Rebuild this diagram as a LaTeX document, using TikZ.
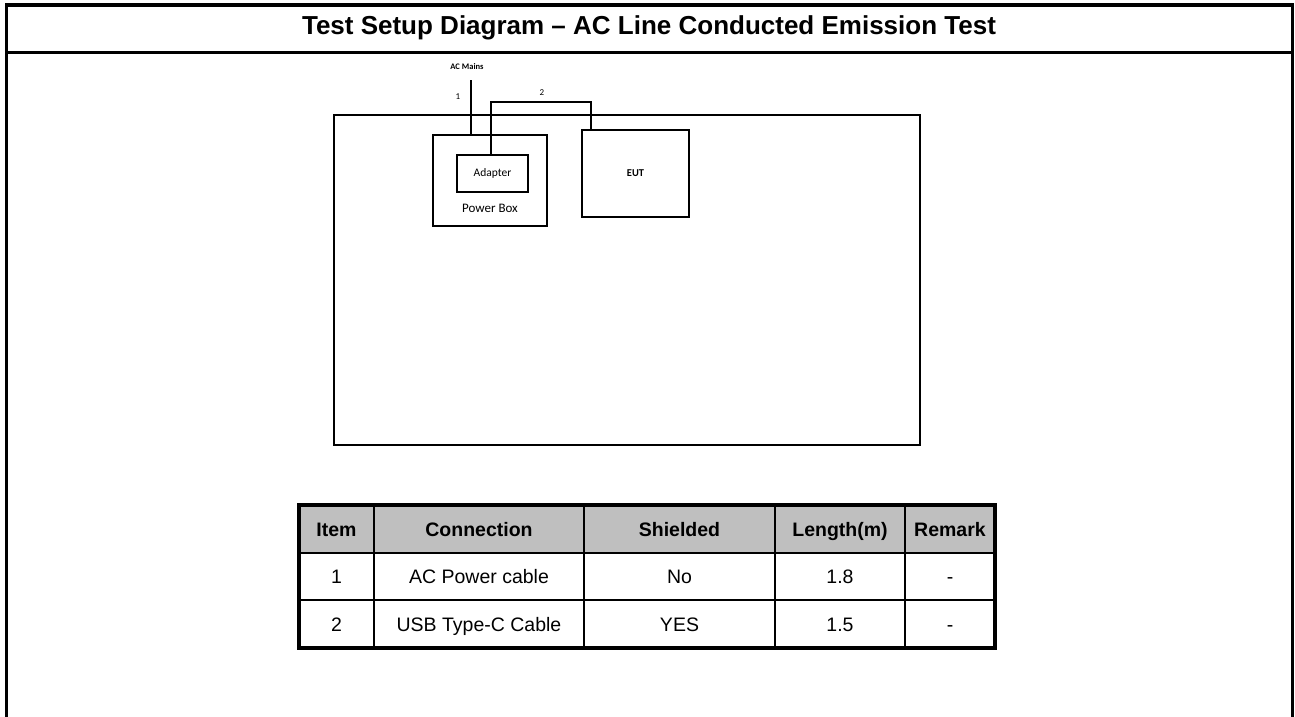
\documentclass[tikz,border=0pt]{standalone}
\usepackage{fontspec}
\setmainfont{Liberation Sans}
\newfontfamily\sketchfont{Carlito}
\usetikzlibrary{positioning}

\begin{document}
\begin{tikzpicture}[x=1pt,y=-1pt,
    frameline/.style={line width=3.4pt},
    headline/.style={line width=2.4pt},
    wire/.style={line width=2.6pt},
    unit/.style={draw,line width=2.6pt,inner sep=0pt},
    sketchtext/.style={font=\sketchfont\fontsize{#1}{#1}\selectfont,inner sep=0pt},
    gridline/.style={line width=2.2pt},
    tableline/.style={line width=3.2pt},
    headcell/.style={anchor=base,font=\fontsize{19.5}{24}\selectfont\bfseries},
    bodycell/.style={anchor=base,font=\fontsize{19.5}{24}\selectfont}]
                \useasboundingbox (0,0) rectangle (1295,717);

                % Frame and title
                \draw[frameline] (6.5,717) -- (6.5,5) -- (1292.3,5) -- (1292.3,717);
                \draw[headline] (6.5,52.5) -- (1292.3,52.5);
                \node[font=\fontsize{26}{30}\selectfont\bfseries] (title) at (649,28)
                    {Test Setup Diagram – AC Line Conducted Emission Test};

                % Bench
                \node[unit,minimum width=586,minimum height=330] (bench) at (627,280) {};

                % Power box with adapter
                \node[unit,minimum width=114,minimum height=91] (pbox) at (490,180.5) {};
                \node[sketchtext=13] (pboxlbl) at (490,208) {Power Box};
                \node[unit,minimum width=71,minimum height=37,font=\sketchfont\fontsize{11.5}{12}\selectfont] (adapter) at (492.5,173.5) {Adapter};

                % EUT
                \node[unit,minimum width=107,minimum height=87,font=\sketchfont\fontsize{10.5}{11}\selectfont\bfseries] (eut) at (635.5,173.5) {EUT};

                % Cables
                \coordinate (mains) at (471,80);
                \node[sketchtext=8,font=\sketchfont\fontsize{8.5}{9}\selectfont\bfseries] (mainslbl) at (467,67) {AC Mains};
                \draw[wire] (mains) -- (mains |- pbox.north);
                \node[sketchtext=9] (one) at (458,97) {1};

                \coordinate (usbup) at (491,102);
                \coordinate (usbover) at (591,102);
                \draw[wire] (usbup |- adapter.north) -- (usbup) -- (usbover) -- (usbover |- eut.north);
                \node[sketchtext=9] (two) at (542,93) {2};

                % Cable table
                \fill[gray!50] (299,505) rectangle (995,553);
                \foreach \x in {374,584,775,905}
                    \draw[gridline] (\x,505) -- (\x,648);
                \foreach \y in {553,600}
                    \draw[gridline] (299,\y) -- (995,\y);
                \draw[tableline] (299,505) rectangle (995,648);

                \foreach \x/\t [count=\i] in {336.5/Item, 479/Connection, 679.5/Shielded, 840/Length(m), 950/Remark}
                    \node[headcell] (head\i) at (\x,536) {\t};
                \foreach \x/\a/\b [count=\i] in {336.5/1/2, 479/AC Power cable/USB Type-C Cable, 679.5/No/YES, 840/1.8/1.5, 950/-/-} {
                    \node[bodycell] (rowa\i) at (\x,583.5) {\a};
                    \node[bodycell] (rowb\i) at (\x,631) {\b};
                }
            \end{tikzpicture}
\end{document}
